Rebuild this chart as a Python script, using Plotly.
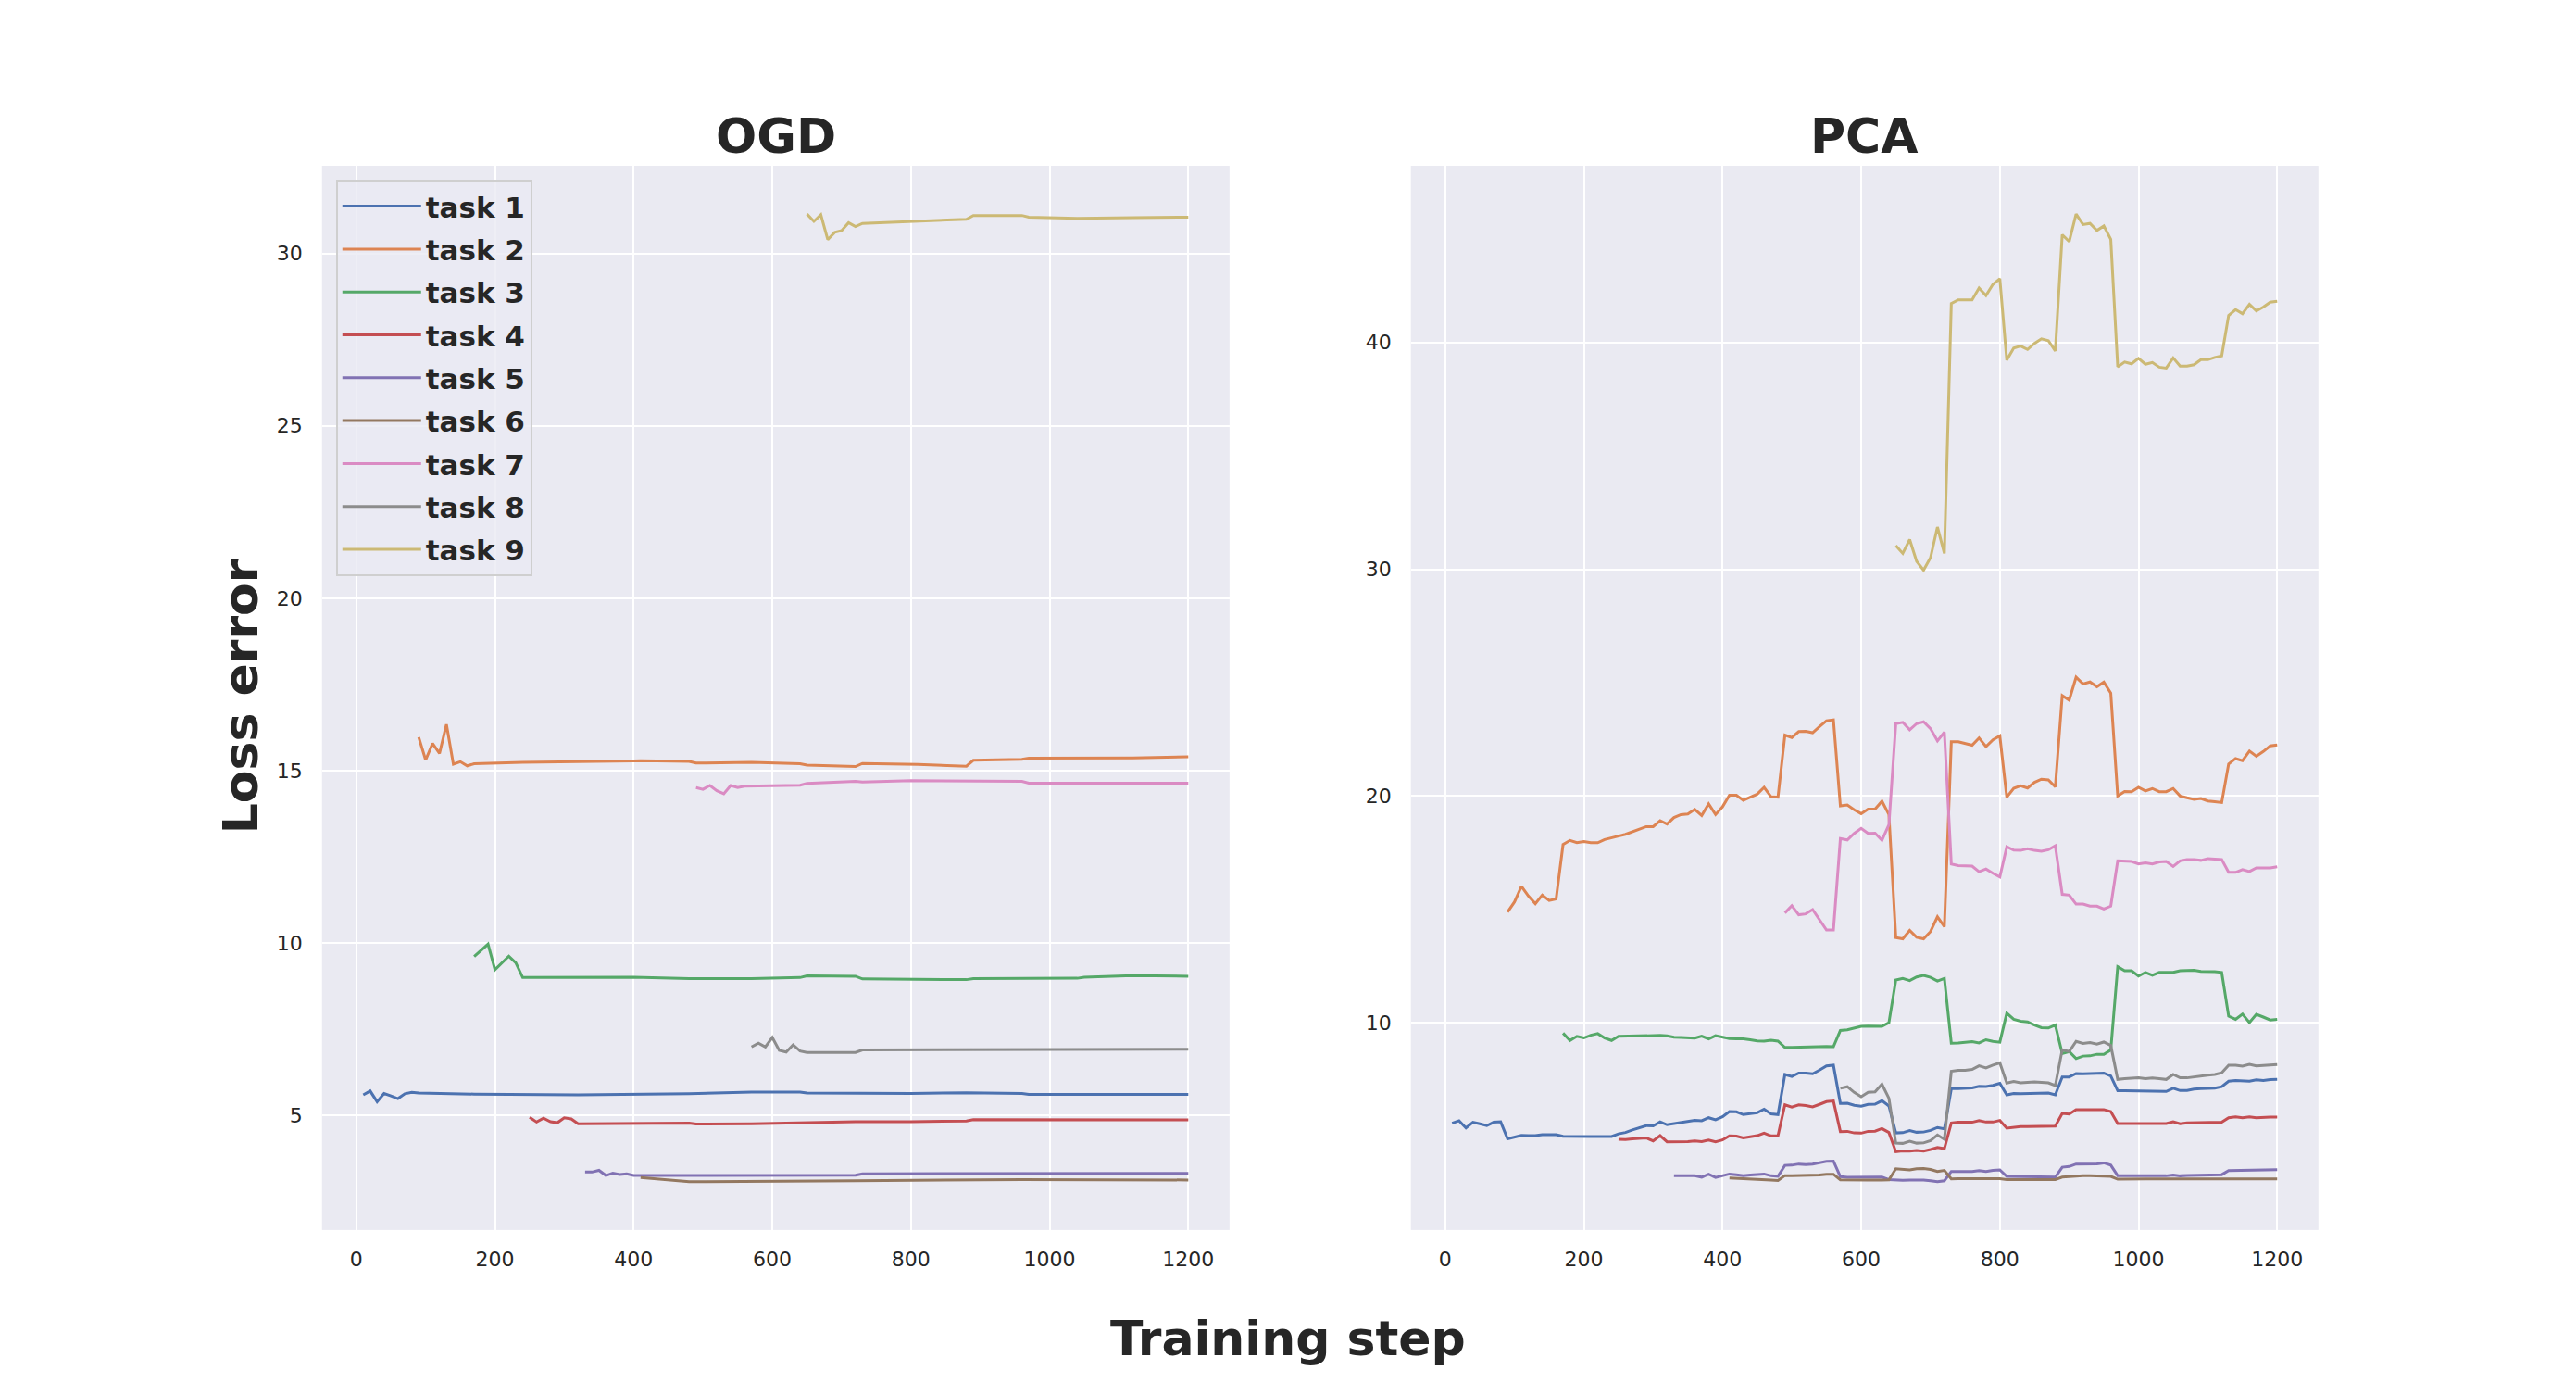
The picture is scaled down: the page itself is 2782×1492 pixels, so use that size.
import plotly.graph_objects as go

BG_COLOR = '#EAEAF2'
TEXT_COLOR = '#262626'
FONT = 'DejaVu Sans'
COLORS = ['#4C72B0', '#DD8452', '#55A868', '#C44E52', '#8172B3',
          '#937860', '#DA8BC3', '#8C8C8C', '#CCB974']
TASKS = ['task %d' % i for i in range(1, 10)]

#*## OGD panel: steps and loss per task ****
ogd_x1 = [10, 20, 30, 40, 50, 60, 70, 80, 90, 170, 320, 400, 480, 570, 640, 650, 800, 880, 960, 970, 1200]
ogd_y1 = [5.60, 5.71, 5.40, 5.64, 5.57, 5.49, 5.63, 5.67, 5.65, 5.62, 5.60, 5.61, 5.63, 5.68, 5.68,
          5.65, 5.64, 5.66, 5.64, 5.61, 5.61]
ogd_x2 = [90, 100, 110, 120, 130, 140, 150, 160, 170, 240, 400, 410, 480, 490, 570, 640, 650, 720,
          730, 800, 810, 880, 890, 960, 970, 1120, 1200]
ogd_y2 = [15.97, 15.31, 15.79, 15.50, 16.34, 15.19, 15.26, 15.14, 15.20, 15.24, 15.28, 15.29, 15.27,
          15.22, 15.24, 15.20, 15.16, 15.12, 15.21, 15.20, 15.18, 15.13, 15.30, 15.33, 15.36, 15.37, 15.40]
ogd_x3 = [170, 190, 200, 220, 230, 240, 400, 480, 570, 640, 650, 720, 730, 880, 890, 1040, 1050, 1120, 1200]
ogd_y3 = [9.61, 9.97, 9.23, 9.62, 9.43, 9.00, 9.01, 8.97, 8.97, 9.00, 9.05, 9.04, 8.96, 8.94, 8.97,
          8.98, 9.01, 9.06, 9.04]
ogd_x4 = [250, 260, 270, 280, 290, 300, 310, 320, 480, 490, 570, 720, 800, 880, 890, 960, 1040, 1200]
ogd_y4 = [4.95, 4.81, 4.92, 4.82, 4.79, 4.93, 4.90, 4.76, 4.78, 4.75, 4.76, 4.82, 4.82, 4.84, 4.88,
          4.88, 4.86, 4.87]
ogd_x5 = [330, 340, 350, 360, 370, 380, 390, 400, 480, 720, 730, 1200]
ogd_y5 = [3.36, 3.36, 3.41, 3.26, 3.33, 3.29, 3.31, 3.26, 3.26, 3.27, 3.31, 3.32]
ogd_x6 = [410, 480, 720, 960, 1200]
ogd_y6 = [3.20, 3.08, 3.11, 3.14, 3.13]
ogd_x7 = [490, 500, 510, 520, 530, 540, 550, 560, 640, 650, 720, 730, 800, 960, 970, 1200]
ogd_y7 = [14.51, 14.46, 14.57, 14.42, 14.33, 14.57, 14.51, 14.55, 14.58, 14.63, 14.69, 14.67, 14.71,
          14.69, 14.64, 14.64]
ogd_x8 = [570, 580, 590, 600, 610, 620, 630, 640, 650, 720, 730, 880, 890, 960, 970, 1040, 1200]
ogd_y8 = [6.99, 7.10, 6.99, 7.26, 6.89, 6.84, 7.05, 6.87, 6.83, 6.83, 6.90, 6.90, 6.92, 6.92, 6.91,
          6.91, 6.92]
ogd_x9 = [650, 660, 670, 680, 690, 700, 710, 720, 730, 800, 880, 890, 960, 970, 1040, 1120, 1200]
ogd_y9 = [31.14, 30.93, 31.12, 30.40, 30.61, 30.66, 30.89, 30.78, 30.87, 30.93, 30.99, 31.10, 31.10,
          31.05, 31.02, 31.04, 31.05]

#*## PCA panel: one value every 10 steps, task k starts at step 10 + 80*(k-1) ****
pca_start = [10, 90, 170, 250, 330, 410, 490, 570, 650]
pca_y1 = [5.57, 5.68, 5.36, 5.61, 5.54, 5.46, 5.61, 5.63,
          4.88, 4.95, 5.03, 5.02, 5.02, 5.06, 5.06, 5.06,
          4.99, 4.98, 4.98, 4.98, 4.98, 4.98, 4.98, 4.98,
          5.10, 5.16, 5.27, 5.36, 5.46, 5.45, 5.63, 5.50,
          5.55, 5.61, 5.65, 5.70, 5.68, 5.81, 5.72, 5.85,
          6.08, 6.07, 5.95, 5.99, 6.03, 6.19, 5.98, 5.95,
          7.72, 7.63, 7.78, 7.78, 7.75, 7.91, 8.10, 8.13,
          6.44, 6.45, 6.36, 6.32, 6.40, 6.41, 6.56, 6.33,
          5.14, 5.15, 5.24, 5.17, 5.18, 5.25, 5.38, 5.32,
          7.09, 7.10, 7.12, 7.13, 7.20, 7.19, 7.24, 7.33,
          6.82, 6.88, 6.87, 6.88, 6.90, 6.90, 6.90, 6.82,
          7.61, 7.61, 7.76, 7.75, 7.76, 7.75, 7.78, 7.65,
          7.00, 7.00, 7.00, 7.00, 7.00, 7.00, 7.00, 6.97,
          7.11, 7.01, 7.01, 7.07, 7.09, 7.09, 7.12, 7.18,
          7.42, 7.45, 7.45, 7.42, 7.48, 7.45, 7.49, 7.50]
pca_y2 = [14.88, 15.33, 16.02, 15.59, 15.25, 15.63, 15.39, 15.46,
          17.86, 18.04, 17.94, 17.99, 17.94, 17.94, 18.08, 18.17,
          18.23, 18.31, 18.42, 18.54, 18.65, 18.65, 18.91, 18.76,
          19.05, 19.18, 19.21, 19.41, 19.14, 19.65, 19.18, 19.52,
          20.03, 20.03, 19.81, 19.95, 20.08, 20.38, 19.97, 19.95,
          22.69, 22.58, 22.84, 22.85, 22.79, 23.06, 23.32, 23.36,
          19.56, 19.60, 19.39, 19.22, 19.42, 19.42, 19.77, 19.18,
          13.75, 13.70, 14.07, 13.77, 13.70, 14.02, 14.67, 14.24,
          22.39, 22.39, 22.33, 22.24, 22.56, 22.18, 22.48, 22.65,
          19.95, 20.34, 20.45, 20.35, 20.60, 20.74, 20.71, 20.40,
          24.43, 24.23, 25.24, 24.94, 25.03, 24.82, 25.02, 24.54,
          20.00, 20.20, 20.19, 20.38, 20.22, 20.33, 20.19, 20.19,
          20.33, 20.00, 19.92, 19.85, 19.89, 19.78, 19.75, 19.71,
          21.41, 21.65, 21.56, 21.98, 21.75, 21.96, 22.21, 22.25]
pca_y3 = [9.54, 9.22, 9.40, 9.33, 9.45, 9.52, 9.33, 9.22,
          9.40, 9.41, 9.41, 9.42, 9.42, 9.42, 9.44, 9.42,
          9.36, 9.35, 9.35, 9.32, 9.41, 9.29, 9.43, 9.36,
          9.30, 9.29, 9.29, 9.25, 9.20, 9.19, 9.23, 9.19,
          8.91, 8.91, 8.92, 8.94, 8.95, 8.95, 8.95, 8.94,
          9.66, 9.69, 9.77, 9.84, 9.85, 9.86, 9.84, 10.00,
          11.88, 11.95, 11.86, 12.02, 12.09, 12.00, 11.84, 11.95,
          9.10, 9.11, 9.14, 9.17, 9.11, 9.25, 9.18, 9.14,
          10.42, 10.15, 10.07, 10.04, 9.90, 9.78, 9.77, 9.90,
          8.64, 8.73, 8.42, 8.53, 8.54, 8.61, 8.61, 8.80,
          12.47, 12.29, 12.29, 12.06, 12.22, 12.09, 12.22, 12.22,
          12.22, 12.29, 12.31, 12.31, 12.26, 12.26, 12.25, 12.22,
          10.29, 10.15, 10.38, 10.01, 10.37, 10.25, 10.12, 10.15]
pca_y4 = [4.86, 4.85, 4.88, 4.89, 4.92, 4.79, 5.02, 4.75,
          4.75, 4.75, 4.76, 4.79, 4.76, 4.83, 4.75, 4.83,
          5.01, 5.00, 4.92, 4.97, 5.02, 5.13, 5.01, 5.02,
          6.38, 6.28, 6.38, 6.35, 6.29, 6.40, 6.52, 6.55,
          5.20, 5.21, 5.14, 5.13, 5.21, 5.22, 5.33, 5.16,
          4.31, 4.35, 4.34, 4.37, 4.34, 4.41, 4.50, 4.45,
          5.58, 5.61, 5.61, 5.61, 5.68, 5.62, 5.62, 5.69,
          5.35, 5.40, 5.42, 5.42, 5.42, 5.42, 5.43, 5.44,
          6.00, 5.97, 6.17, 6.17, 6.17, 6.17, 6.17, 6.08,
          5.55, 5.55, 5.55, 5.55, 5.55, 5.55, 5.55, 5.55,
          5.63, 5.54, 5.58, 5.58, 5.58, 5.58, 5.58, 5.61,
          5.81, 5.85, 5.81, 5.85, 5.81, 5.84, 5.84, 5.84]
pca_y5 = [3.26, 3.26, 3.27, 3.25, 3.19, 3.32, 3.18, 3.27,
          3.33, 3.30, 3.26, 3.29, 3.30, 3.33, 3.25, 3.23,
          3.71, 3.72, 3.77, 3.75, 3.77, 3.83, 3.89, 3.90,
          3.21, 3.18, 3.18, 3.17, 3.18, 3.18, 3.19, 3.08,
          3.06, 3.05, 3.06, 3.07, 3.06, 3.03, 2.99, 3.03,
          3.44, 3.44, 3.44, 3.44, 3.48, 3.44, 3.49, 3.51,
          3.22, 3.22, 3.22, 3.22, 3.22, 3.22, 3.22, 3.19,
          3.63, 3.66, 3.77, 3.77, 3.78, 3.78, 3.82, 3.72,
          3.25, 3.25, 3.25, 3.25, 3.25, 3.25, 3.25, 3.25,
          3.29, 3.25, 3.27, 3.27, 3.27, 3.27, 3.27, 3.30,
          3.48, 3.49, 3.48, 3.51, 3.52, 3.52, 3.52, 3.52]
pca_y6 = [3.15, 3.14, 3.12, 3.11, 3.08, 3.07, 3.06, 3.04,
          3.26, 3.26, 3.27, 3.26, 3.26, 3.29, 3.32, 3.32,
          3.07, 3.06, 3.06, 3.06, 3.06, 3.06, 3.06, 3.07,
          3.56, 3.55, 3.51, 3.56, 3.57, 3.53, 3.44, 3.49,
          3.11, 3.12, 3.12, 3.12, 3.12, 3.12, 3.12, 3.12,
          3.08, 3.08, 3.08, 3.08, 3.08, 3.08, 3.08, 3.08,
          3.19, 3.22, 3.25, 3.25, 3.25, 3.25, 3.25, 3.22,
          3.10, 3.11, 3.11, 3.11, 3.11, 3.11, 3.11, 3.11,
          3.11, 3.11, 3.11, 3.11, 3.11, 3.11, 3.11, 3.11,
          3.11, 3.11, 3.11, 3.11, 3.11, 3.11, 3.11, 3.11]
pca_y7 = [14.84, 15.16, 14.76, 14.80, 14.99, 14.54, 14.09, 14.09,
          18.12, 18.06, 18.35, 18.57, 18.35, 18.36, 18.05, 18.73,
          23.19, 23.25, 22.92, 23.19, 23.27, 22.97, 22.43, 22.81,
          17.00, 16.93, 16.92, 16.91, 16.66, 16.78, 16.59, 16.43,
          17.76, 17.61, 17.60, 17.67, 17.60, 17.56, 17.63, 17.80,
          15.66, 15.63, 15.23, 15.23, 15.14, 15.14, 15.01, 15.14,
          17.14, 17.11, 17.11, 17.00, 17.05, 17.00, 17.09, 17.11,
          16.89, 17.14, 17.19, 17.20, 17.16, 17.24, 17.22, 17.20,
          16.63, 16.63, 16.75, 16.67, 16.83, 16.83, 16.83, 16.88]
pca_y8 = [7.11, 7.18, 6.93, 6.74, 6.93, 6.95, 7.29, 6.67,
          4.69, 4.68, 4.77, 4.69, 4.70, 4.80, 5.05, 4.86,
          7.86, 7.90, 7.90, 7.94, 8.10, 8.01, 8.13, 8.23,
          7.34, 7.41, 7.35, 7.37, 7.39, 7.37, 7.35, 7.23,
          8.81, 8.73, 9.18, 9.09, 9.13, 9.06, 9.15, 9.00,
          7.50, 7.53, 7.54, 7.57, 7.53, 7.56, 7.53, 7.50,
          7.72, 7.57, 7.57, 7.61, 7.68, 7.69, 7.72, 7.79,
          8.13, 8.13, 8.09, 8.17, 8.10, 8.13, 8.16, 8.16]
pca_y9 = [31.04, 30.70, 31.31, 30.35, 29.96, 30.51, 31.86, 30.70,
          41.72, 41.88, 41.88, 41.88, 42.40, 42.07, 42.56, 42.81,
          39.22, 39.75, 39.84, 39.69, 39.96, 40.16, 40.08, 39.63,
          44.75, 44.45, 45.66, 45.20, 45.25, 44.94, 45.14, 44.55,
          38.93, 39.14, 39.06, 39.30, 39.04, 39.12, 38.91, 38.87,
          39.32, 38.96, 38.96, 39.02, 39.24, 39.24, 39.34, 39.41,
          41.19, 41.45, 41.27, 41.68, 41.39, 41.56, 41.78, 41.82]

ogd_x = [ogd_x1, ogd_x2, ogd_x3, ogd_x4, ogd_x5, ogd_x6, ogd_x7, ogd_x8, ogd_x9]
ogd_y = [ogd_y1, ogd_y2, ogd_y3, ogd_y4, ogd_y5, ogd_y6, ogd_y7, ogd_y8, ogd_y9]
pca_y = [pca_y1, pca_y2, pca_y3, pca_y4, pca_y5, pca_y6, pca_y7, pca_y8, pca_y9]

x_ticks = [0, 200, 400, 600, 800, 1000, 1200]
ogd_y_ticks = [5, 10, 15, 20, 25, 30]
pca_y_ticks = [10, 20, 30, 40]


def axis_style(domain, rng, ticks, anchor, standoff):
    return dict(domain=domain, range=rng, tickvals=ticks, anchor=anchor,
                showline=False, zeroline=False, ticks='',
                showgrid=True, gridcolor='white', gridwidth=2,
                tickfont=dict(family=FONT, size=22, color=TEXT_COLOR),
                ticklabelstandoff=standoff)


fig = go.Figure()

for i in range(9):
    fig.add_trace(go.Scatter(x=ogd_x[i], y=ogd_y[i], mode='lines', name=TASKS[i],
                             line=dict(color=COLORS[i], width=3),
                             xaxis='x', yaxis='y', legendgroup=TASKS[i]))

for i in range(9):
    steps = list(range(pca_start[i], 1201, 10))
    fig.add_trace(go.Scatter(x=steps, y=pca_y[i], mode='lines', name=TASKS[i],
                             line=dict(color=COLORS[i], width=3),
                             xaxis='x2', yaxis='y2', showlegend=False))

title_font = dict(family=FONT, size=52, color=TEXT_COLOR, weight='bold')

fig.update_layout(
    width=2782, height=1492,
    margin=dict(l=0, r=0, t=0, b=0),
    paper_bgcolor='white',
    plot_bgcolor=BG_COLOR,
    xaxis=axis_style([0.125, 0.4773], [-49.5, 1259.5], x_ticks, 'y', 16),
    yaxis=axis_style([0.11, 0.88], [1.68, 32.54], ogd_y_ticks, 'x', 20),
    xaxis2=axis_style([0.5477, 0.9], [-49.5, 1259.5], x_ticks, 'y2', 16),
    yaxis2=axis_style([0.11, 0.88], [0.86, 47.79], pca_y_ticks, 'x2', 20),
    legend=dict(x=0.1304, y=0.870, xanchor='left', yanchor='top',
                bgcolor='rgba(234,234,242,0.8)', bordercolor='#cfcfcf', borderwidth=2,
                font=dict(family=FONT, size=31, color=TEXT_COLOR, weight='bold'),
                tracegroupgap=3, itemwidth=85),
    annotations=[
        dict(text='OGD', x=0.3011, y=0.9015, xref='paper', yref='paper',
             xanchor='center', yanchor='middle', showarrow=False, font=title_font),
        dict(text='PCA', x=0.7239, y=0.9015, xref='paper', yref='paper',
             xanchor='center', yanchor='middle', showarrow=False, font=title_font),
        dict(text='Loss error', x=0.0936, y=0.496, xref='paper', yref='paper',
             xanchor='center', yanchor='middle', textangle=-90, showarrow=False, font=title_font),
        dict(text='Training step', x=0.5, y=0.0317, xref='paper', yref='paper',
             xanchor='center', yanchor='middle', showarrow=False, font=title_font),
    ],
)

fig.write_html("out.html", config={'displayModeBar': False},
               post_script="document.body.style.margin = '0';")
